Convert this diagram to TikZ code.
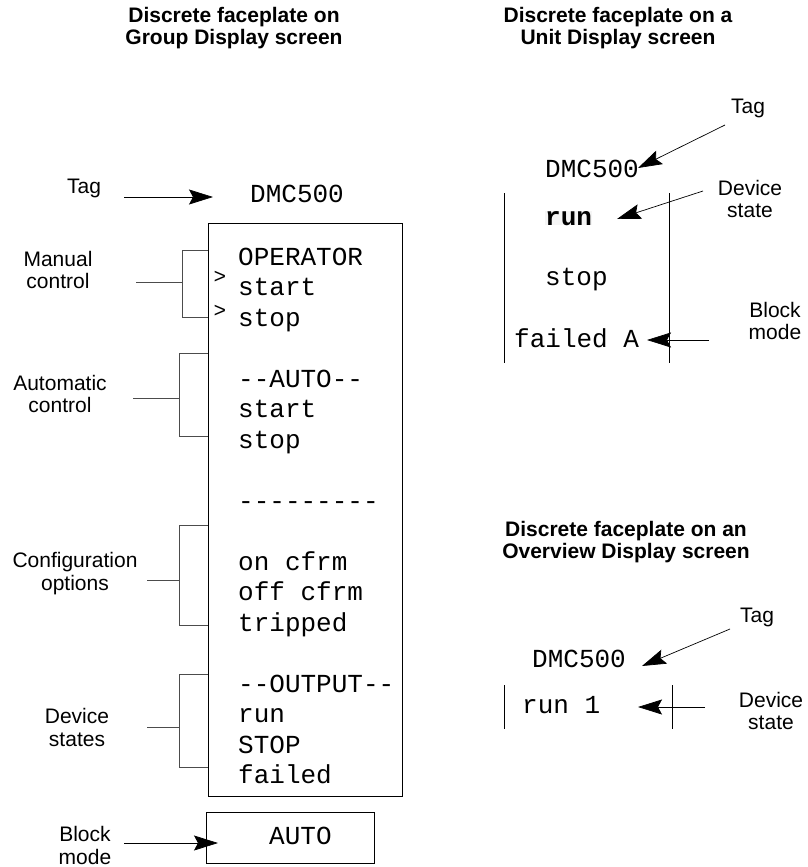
\documentclass[tikz,border=0pt]{standalone}
\usepackage{fontspec}
\setmainfont{Liberation Sans}
\setmonofont{Liberation Mono}
\usetikzlibrary{arrows.meta}

\tikzset{
 lbl/.style={align=center, inner sep=0pt, font=\fontsize{21}{22.5}\selectfont},
 ttl/.style={align=center, inner sep=0pt, font=\fontsize{21}{22}\selectfont\bfseries},
 scr/.style={anchor=base west, inner sep=0pt, font=\fontsize{26}{30}\selectfont\ttfamily},
 selmark/.style={inner sep=0pt, font=\fontsize{21}{21}\selectfont\ttfamily},
 ptr/.style={-{Stealth[length=24pt,width=15pt,inset=4pt]}, line width=0.7pt},
 brace/.style={draw=black!70, line width=0.8pt},
 plate/.style={draw, line width=0.9pt}
}

\begin{document}
\begin{tikzpicture}[x=1pt, y=-1pt]
 \useasboundingbox (0,0) rectangle (808,867);

 %titles
 \node[ttl] (ttlgroup) at (234,28) {Discrete faceplate on\\Group Display screen};
 \node[ttl] (ttlunit) at (618,28) {Discrete faceplate on a\\Unit Display screen};
 \node[ttl] (ttlover) at (626,542) {Discrete faceplate on an\\Overview Display screen};

 %group display faceplate
 \draw[plate] (208,223) rectangle (402,796);
 \draw[plate] (206,812) rectangle (374,863);

 \node[scr] (gtag) at (250,202) {DMC500};
 \node[scr] (gl1) at (238,265) {OPERATOR};
 \node[scr] (gl2) at (238,295.5) {start};
 \node[scr] (gl3) at (238,326) {stop};
 \node[scr] (gl4) at (238,387) {-{}-AUTO-{}-};
 \node[scr] (gl5) at (238,417.5) {start};
 \node[scr] (gl6) at (238,448) {stop};
 \node[scr] (gl7) at (238,509) {-{}-{}-{}-{}-{}-{}-{}-{}-};
 \node[scr] (gl8) at (238,570) {on cfrm};
 \node[scr] (gl9) at (238,600.5) {off cfrm};
 \node[scr] (gl10) at (238,631) {tripped};
 \node[scr] (gl11) at (238,692) {-{}-OUTPUT-{}-};
 \node[scr] (gl12) at (238,722.5) {run};
 \node[scr] (gl13) at (238,753) {STOP};
 \node[scr] (gl14) at (238,783.5) {failed};
 \node[scr] (gmode) at (269,844) {AUTO};

 %selection marks
 \node[selmark] (sel1) at (220,277) {>};
 \node[selmark] (sel2) at (220,311.5) {>};

 %labels on the left
 \node[lbl] (ltag) at (84,188.5) {Tag};
 \node[lbl] (lman) at (58,270) {Manual\\control};
 \node[lbl] (lauto) at (60,394) {Automatic\\control};
 \node[lbl] (lconf) at (75,573.5) {Configuration\\options};
 \node[lbl] (ldev) at (77,727.5) {Device\\states};
 \node[lbl] (lmode) at (85,845.5) {Block\\mode};

 %arrow ends
 \coordinate (A) at (124,197);
 \coordinate (B) at (213,197);
 \coordinate (C) at (124,843);
 \coordinate (D) at (218,843);

 \draw[ptr] (A) -- (B);
 \draw[ptr] (C) -- (D);

 %brackets
 \draw[brace] (208,250) -- (182,250) -- (182,317) -- (208,317);
 \draw[brace] (136,282) -- (182,282);
 \draw[brace] (208,353) -- (179,353) -- (179,436) -- (208,436);
 \draw[brace] (133,398) -- (179,398);
 \draw[brace] (208,525) -- (179,525) -- (179,625) -- (208,625);
 \draw[brace] (147,580) -- (179,580);
 \draw[brace] (208,674) -- (179,674) -- (179,767) -- (208,767);
 \draw[brace] (147,727) -- (179,727);

 %unit display faceplate
 \node[scr] (utag) at (545,177) {DMC500};
 \node[scr, fill=black!4, font=\fontsize{26}{30}\selectfont\ttfamily\bfseries] (urun) at (545,225) {run};
 \node[scr] (ustop) at (545,285) {stop};
 \node[scr] (ufail) at (514,347) {failed A};

 \node[lbl] (rtag) at (748,108) {Tag};
 \node[lbl] (rdev) at (750,199) {Device\\state};
 \node[lbl] (rmode) at (775,321) {Block\\mode};

 \draw[line width=0.8pt] (504,193) -- (504,363);
 \draw[line width=0.8pt] (669,193) -- (669,363);

 \coordinate (E) at (725,125);
 \coordinate (F) at (638,168);
 \coordinate (G) at (703,191);
 \coordinate (H) at (617,219);
 \coordinate (I) at (709,340);
 \coordinate (J) at (647,340);

 \draw[ptr] (E) -- (F);
 \draw[ptr] (G) -- (H);
 \draw[ptr] (I) -- (J);

 %overview display faceplate
 \node[scr] (otag) at (532,667) {DMC500};
 \node[scr] (orun) at (522,713) {run 1};

 \node[lbl] (otaglbl) at (757,617) {Tag};
 \node[lbl] (odev) at (771,711) {Device\\state};

 \draw[line width=0.8pt] (504,685) -- (504,729);
 \draw[line width=0.8pt] (672,685) -- (672,729);

 \coordinate (K) at (730,629);
 \coordinate (L) at (642,666);
 \coordinate (M) at (705,707);
 \coordinate (N) at (638,707);

 \draw[ptr] (K) -- (L);
 \draw[ptr] (M) -- (N);
\end{tikzpicture}
\end{document}
